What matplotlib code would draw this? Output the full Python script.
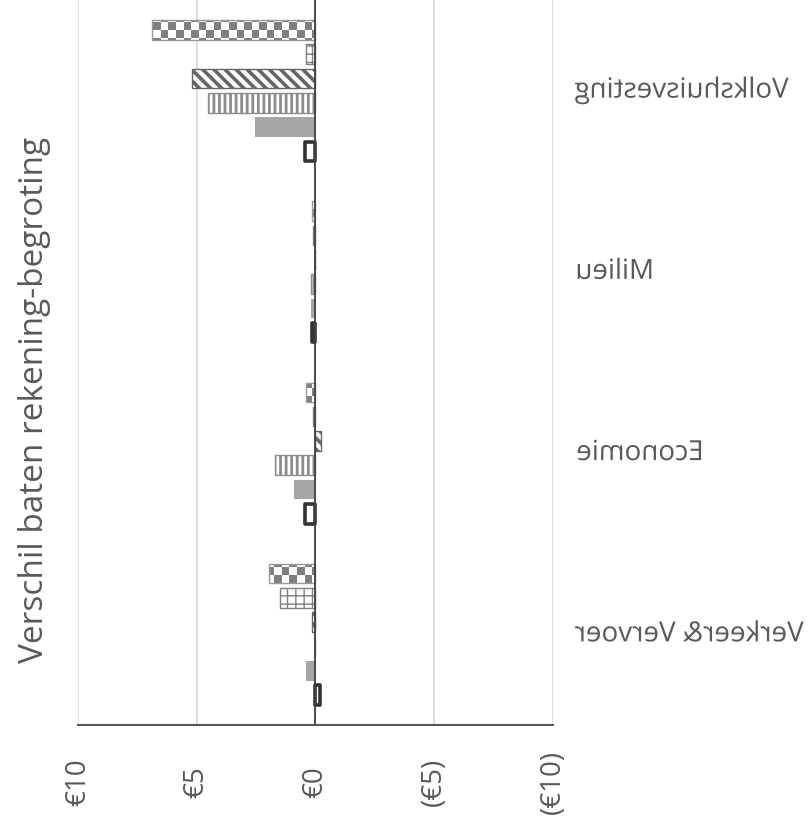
import numpy as np
import matplotlib
matplotlib.use('Agg')
import matplotlib.pyplot as plt
from matplotlib.colors import ListedColormap
from matplotlib.patheffects import AbstractPathEffect
from matplotlib.transforms import Affine2D

# categories from bottom to top
categories = ['Verkeer& Vervoer', 'Economie', 'Milieu', 'Volkshuisvesting']

# verschil per serie, in de volgorde van boven naar beneden binnen een groep
ser_checker = [1.96, 0.42, 0.13, 6.88]
ser_grid = [1.51, 0.12, 0.10, 0.42]
ser_diag = [0.14, -0.25, 0.03, 5.22]
ser_vert = [0.0, 1.70, 0.20, 4.52]
ser_solid = [0.42, 0.91, 0.18, 2.56]
ser_dark = [-0.18, 0.46, 0.15, 0.45]

xticks = [10, 5, 0, -5, -10]
xticklabels = ['€10', '€5', '€0', '(€5)', '(€10)']

TXT = '#595959'
plt.rcParams['font.family'] = ['Open Sans', 'DejaVu Sans']
plt.rcParams['hatch.linewidth'] = 2.0


class Mirror(AbstractPathEffect):
    """draws the text path flipped left-right around its own centre"""
    def draw_path(self, renderer, gc, tpath, affine, rgbFace=None):
        ext = tpath.get_extents()
        flip = Affine2D().scale(-1, 1).translate(ext.x0 + ext.x1, 0)
        renderer.draw_path(gc, tpath, flip + affine, rgbFace)


def hatch_lw(bars, lw):
    for r in bars:
        if hasattr(r, 'set_hatch_linewidth'):
            r.set_hatch_linewidth(lw)


fig = plt.figure(figsize=(8.09, 8.35), dpi=100)
ax = fig.add_axes([78 / 809, 1 - 725 / 835, 475 / 809, 725 / 835])

y = np.arange(len(categories))
slot = 0.134
h = 0.108

def offs(i):
    return y + (2.5 - i) * slot

checker_bars = ax.barh(offs(0), ser_checker, height=h, color='none',
                       edgecolor='#9a9a9a', lw=1, zorder=3)
b = ax.barh(offs(1), ser_grid, height=h, color='white', edgecolor='#7f7f7f',
            hatch='++', lw=1, zorder=3)
hatch_lw(b, 1.0)
b = ax.barh(offs(2), ser_diag, height=h, color='white', edgecolor='#666666',
            hatch='\\\\\\', lw=1, zorder=3)
hatch_lw(b, 2.6)
b = ax.barh(offs(3), ser_vert, height=h, color='white', edgecolor='#8c8c8c',
            hatch='|||', lw=1, zorder=3)
hatch_lw(b, 2.0)
b = ax.barh(offs(4), ser_solid, height=h, color='#a6a6a6', lw=0, zorder=3)
b = ax.barh(offs(5), ser_dark, height=h, color='white', edgecolor='#333333',
            lw=2.6, zorder=3)
for r in b:
    r.set_joinstyle('round')

# checkerboard fill (cells of about 7.5 px), clipped to each bar
nx, ny = 63, 97
ii, jj = np.indices((ny, nx))
board = (ii + jj) % 2
for r in checker_bars:
    im = ax.imshow(board, cmap=ListedColormap(['white', '#7f7f7f']),
                   extent=(0, 1, 0, 1), transform=ax.transAxes,
                   interpolation='nearest', aspect='auto', zorder=2.9)
    im.set_clip_path(r)

ax.set_xlim(10, -10)
ax.set_ylim(-0.5, 3.5)
ax.set_xticks(xticks)
ax.set_xticklabels(xticklabels, rotation=90, va='center', color=TXT,
                   fontsize=20)
ax.tick_params(axis='x', length=0, pad=41)
ax.set_yticks([])
ax.grid(axis='x', color='#d9d9d9', lw=1.3, zorder=0)
ax.axvline(0, color='#404040', lw=1.3, zorder=4)
for s in ['top', 'left', 'right']:
    ax.spines[s].set_visible(False)
ax.spines['bottom'].set_color('#595959')
ax.spines['bottom'].set_linewidth(1.5)

for yy, name in zip(y, categories):
    ax.text(1 + 22 / 475, yy, name, transform=ax.get_yaxis_transform(),
            ha='left', va='center', fontsize=20, color=TXT,
            path_effects=[Mirror()])

fig.text(35 / 809, 1 - 400 / 835, 'Verschil baten rekening-begroting',
         rotation=90, ha='center', va='center', fontsize=24, color=TXT)

fig.savefig('out.png', dpi=100)
